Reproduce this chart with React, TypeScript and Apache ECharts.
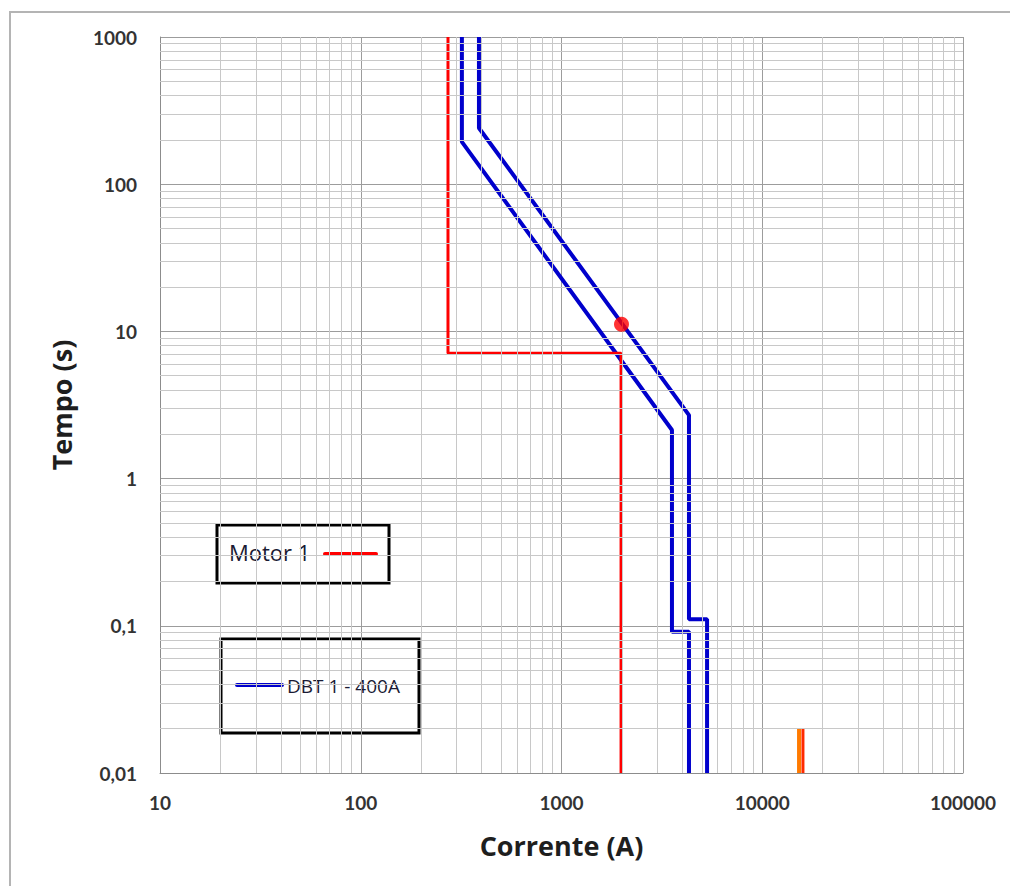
import React, { useEffect, useRef } from "react";
import * as echarts from "echarts";

// Axis ticks
const xTicks = [10, 100, 1000, 10000, 100000];
const yTicks = [0.01, 0.1, 1, 10, 100, 1000];

// Motor 1 curve (current A, time s)
const motorCurve: [number, number][] = [
  [272, 1000],
  [272, 7.1],
  [1980, 7.1],
  [1980, 0.01],
];
const motorPoint: [number, number][] = [[1990, 11.2]];

// DBT 1 - 400A band (inner and outer curves)
const dbtInner: [number, number][] = [
  [319, 1000],
  [319, 194],
  [3550, 2.14],
  [3550, 0.091],
  [4315, 0.091],
  [4315, 0.01],
];
const dbtOuter: [number, number][] = [
  [388, 1000],
  [388, 241],
  [4315, 2.7],
  [4315, 0.111],
  [5310, 0.111],
  [5310, 0.01],
];

// Short-circuit markers
const scOrange: [number, number][] = [
  [15250, 0.01],
  [15250, 0.0202],
];
const scRed: [number, number][] = [
  [15950, 0.01],
  [15950, 0.0202],
];

function minorValues(lo: number, hi: number): number[] {
  const out: number[] = [];
  for (let d = lo; d < hi; d *= 10) {
    for (let k = 2; k <= 9; k++) out.push(Math.round(d * k * 1e6) / 1e6);
  }
  return out;
}

export default function App() {
  const ref = useRef<HTMLDivElement>(null);
  useEffect(() => {
    if (!ref.current) return;
    const chart = echarts.init(ref.current, undefined, { renderer: "svg" });
    const minorX = minorValues(xTicks[0], xTicks[xTicks.length - 1]);
    const minorY = minorValues(yTicks[0], yTicks[yTicks.length - 1]);
    const labelFont = "Lato, 'Open Sans', sans-serif";
    const titleFont = "'Open Sans', sans-serif";
    const fmt = (v: number) => String(v).replace(".", ",");
    chart.setOption({
      animation: false,
      backgroundColor: "#ffffff",
      grid: { left: 160, top: 37, right: 47, bottom: 113, containLabel: false },
      xAxis: {
        type: "log",
        logBase: 10,
        min: 10,
        max: 100000,
        name: "Corrente (A)",
        nameLocation: "middle",
        nameGap: 59,
        nameTextStyle: { fontFamily: titleFont, fontSize: 27, fontWeight: "bold", color: "#1e1e1e" },
        axisLine: { show: true, lineStyle: { color: "#8c8c8c", width: 1 } },
        axisTick: { show: false },
        axisLabel: {
          fontFamily: labelFont,
          fontSize: 19,
          fontWeight: "bold",
          color: "#333333",
          margin: 20,
          formatter: fmt,
        },
        splitLine: { show: true, lineStyle: { color: "#9c9c9c", width: 1 } },
      },
      yAxis: {
        type: "log",
        logBase: 10,
        min: 0.01,
        max: 1000,
        name: "Tempo (s)",
        nameLocation: "middle",
        nameGap: 85,
        nameTextStyle: { fontFamily: titleFont, fontSize: 27, fontWeight: "bold", color: "#1e1e1e" },
        axisLine: { show: true, lineStyle: { color: "#8c8c8c", width: 1 } },
        axisTick: { show: false },
        axisLabel: {
          fontFamily: labelFont,
          fontSize: 19,
          fontWeight: "bold",
          color: "#333333",
          margin: 23,
          formatter: fmt,
        },
        splitLine: { show: true, lineStyle: { color: "#9c9c9c", width: 1 } },
      },
      series: [
        {
          type: "line",
          name: "grid-minor",
          data: [],
          silent: true,
          markLine: {
            silent: true,
            symbol: "none",
            label: { show: false },
            lineStyle: { color: "#c8c8c8", width: 1, type: "solid" },
            data: [
              ...minorX.map((v) => ({ xAxis: v })),
              ...minorY.map((v) => ({ yAxis: v })),
            ],
          },
          z: 0,
        },
        {
          type: "line",
          name: "DBT 1 - 400A",
          data: dbtInner,
          showSymbol: false,
          lineStyle: { color: "#0000cc", width: 4 },
          z: 3,
        },
        {
          type: "line",
          name: "DBT 1 - 400A (max)",
          data: dbtOuter,
          showSymbol: false,
          lineStyle: { color: "#0000cc", width: 4 },
          z: 3,
        },
        {
          type: "line",
          name: "Motor 1",
          data: motorCurve,
          showSymbol: false,
          lineStyle: { color: "#ff0000", width: 3 },
          z: 4,
        },
        {
          type: "scatter",
          name: "Motor 1 ponto",
          data: motorPoint,
          symbolSize: 15,
          itemStyle: { color: "#ff0000" },
          z: 5,
        },
        {
          type: "line",
          name: "Icc 1",
          data: scOrange,
          showSymbol: false,
          lineStyle: { color: "#ff7a00", width: 4 },
          z: 4,
        },
        {
          type: "line",
          name: "Icc 2",
          data: scRed,
          showSymbol: false,
          lineStyle: { color: "#ff2a00", width: 3 },
          z: 4,
        },
      ],
      graphic: [
        {
          type: "rect",
          shape: { x: 10, y: 12, width: 1010, height: 890 },
          style: { fill: "none", stroke: "#b4b4b4", lineWidth: 2 },
          silent: true,
          z: -1,
        },
        {
          type: "group",
          z: 100,
          children: [
            {
              type: "rect",
              shape: { x: 217, y: 525, width: 172, height: 58 },
              style: { fill: "#ffffff", stroke: "#000000", lineWidth: 3 },
            },
            {
              type: "text",
              x: 229,
              y: 552,
              style: {
                text: "Motor 1",
                font: "22px 'Open Sans', sans-serif",
                fill: "#1a1a33",
                verticalAlign: "middle",
              },
            },
            {
              type: "line",
              shape: { x1: 325, y1: 554, x2: 376, y2: 554 },
              style: { stroke: "#ff0000", fill: "none", lineWidth: 4, lineCap: "round" },
            },
            {
              type: "rect",
              shape: { x: 221, y: 639, width: 198, height: 94 },
              style: { fill: "#ffffff", stroke: "#000000", lineWidth: 3 },
            },
            {
              type: "line",
              shape: { x1: 237, y1: 685, x2: 282, y2: 685 },
              style: { stroke: "#0000cc", fill: "none", lineWidth: 4, lineCap: "round" },
            },
            {
              type: "text",
              x: 287,
              y: 686,
              style: {
                text: "DBT 1 - 400A",
                font: "19px 'Open Sans', sans-serif",
                fill: "#1a1a33",
                verticalAlign: "middle",
              },
            },
          ],
        },
      ],
    });
    return () => chart.dispose();
  }, []);
  return (
    <div
      ref={ref}
      style={{ position: "fixed", left: 0, top: 0, width: 1010, height: 886 }}
    />
  );
}
